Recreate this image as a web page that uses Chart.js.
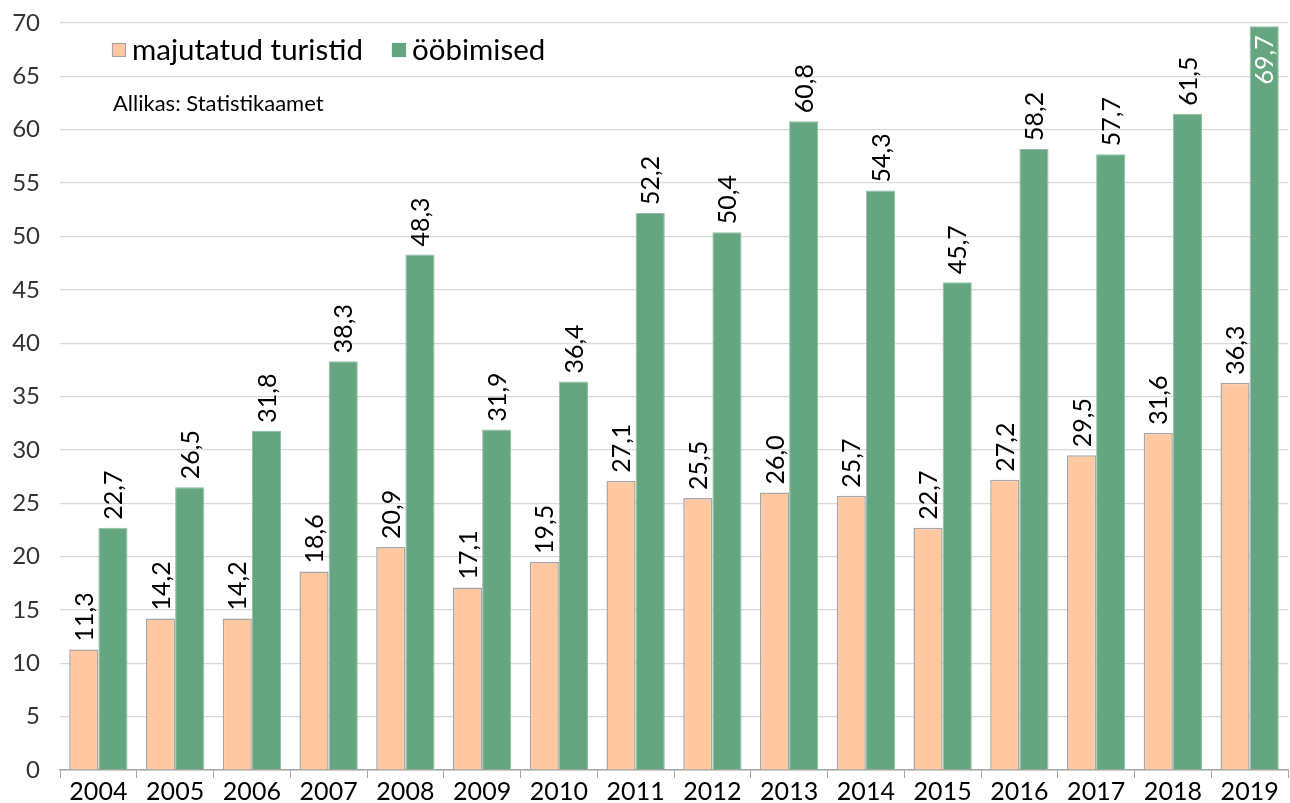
<!DOCTYPE html>
<html>
<head>
<meta charset="utf-8">
<script src="https://cdn.jsdelivr.net/npm/chart.js@4/dist/chart.umd.min.js"></script>
<style>
html,body{margin:0;padding:0;background:#fff;}
#wrap{width:1290px;height:803px;position:relative;}
</style>
</head>
<body>
<div id="wrap"><canvas id="c" width="1290" height="803"></canvas></div>
<script>
const years = ['2004','2005','2006','2007','2008','2009','2010','2011','2012','2013','2014','2015','2016','2017','2018','2019'];
const tourists = [11.3,14.2,14.2,18.6,20.9,17.1,19.5,27.1,25.5,26.0,25.7,22.7,27.2,29.5,31.6,36.3];
const nights = [22.7,26.5,31.8,38.3,48.3,31.9,36.4,52.2,50.4,60.8,54.3,45.7,58.2,57.7,61.5,69.7];
const seriesNames = ['majutatud turistid','ööbimised'];
const sourceNote = 'Allikas: Statistikaamet';

const FONT = 'Lato, "Open Sans", sans-serif';
const fmt = v => v.toFixed(1).replace('.', ',');

const labelPlugin = {
  id: 'barLabels',
  afterDatasetsDraw(chart) {
    const ctx = chart.ctx;
    ctx.save();
    ctx.font = '25px ' + FONT;
    chart.data.datasets.forEach((ds, di) => {
      const meta = chart.getDatasetMeta(di);
      meta.data.forEach((bar, i) => {
        const txt = fmt(ds.data[i]);
        const w = ctx.measureText(txt).width;
        ctx.save();
        ctx.translate(bar.x, bar.y);
        ctx.rotate(-Math.PI / 2);
        ctx.textBaseline = 'middle';
        if (bar.y - 8 - w < 0) {
          ctx.fillStyle = '#ffffff';
          ctx.textAlign = 'right';
          ctx.fillText(txt, -9, 1);
        } else {
          ctx.fillStyle = '#000000';
          ctx.textAlign = 'left';
          ctx.fillText(txt, 8, 1);
        }
        ctx.restore();
      });
    });
    ctx.restore();
  }
};

const legendPlugin = {
  id: 'customLegend',
  afterDraw(chart) {
    const ctx = chart.ctx;
    ctx.save();
    const items = [
      {x: 112, fill: '#ffc8a0', stroke: '#a6a6a6', text: seriesNames[0]},
      {x: 392, fill: '#65a680', stroke: '#65a680', text: seriesNames[1]}
    ];
    items.forEach(it => {
      ctx.fillStyle = it.fill;
      ctx.fillRect(it.x, 43, 14, 14);
      ctx.strokeStyle = it.stroke;
      ctx.lineWidth = 1.2;
      ctx.strokeRect(it.x + 0.5, 43.5, 13, 13);
      ctx.fillStyle = '#000';
      ctx.font = '29.5px ' + FONT;
      ctx.textBaseline = 'alphabetic';
      ctx.textAlign = 'left';
      ctx.fillText(it.text, it.x + 20, 60);
    });
    ctx.font = '22px "Liberation Sans Narrow", ' + FONT;
    ctx.fillText(sourceNote, 113, 111);
    ctx.restore();
  }
};

new Chart(document.getElementById('c'), {
  type: 'bar',
  data: {
    labels: years,
    datasets: [
      {label: seriesNames[0], data: tourists, backgroundColor: '#ffc8a0', borderColor: '#a6a6a6', borderWidth: 1.5, borderSkipped: 'bottom'},
      {label: seriesNames[1], data: nights, backgroundColor: '#65a680', borderColor: '#8fc0a3', borderWidth: 1, borderSkipped: 'bottom'}
    ]
  },
  options: {
    responsive: false,
    animation: false,
    layout: {padding: {top: 23, right: 2, left: 0, bottom: 0}},
    datasets: {bar: {categoryPercentage: 0.76, barPercentage: 1.0}},
    plugins: {legend: {display: false}, tooltip: {enabled: false}, title: {display: false}},
    scales: {
      x: {
        afterFit(s) { s.height = 33; },
        grid: {display: true, drawOnChartArea: false, offset: true, tickLength: 8, color: '#a6a6a6'},
        border: {display: true, color: '#a6a6a6', width: 1.5},
        ticks: {color: '#000', font: {family: FONT, size: 25}, padding: -1, maxRotation: 0}
      },
      y: {
        min: 0, max: 70,
        afterFit(s) { s.width = 60; s.paddingTop = 0; s.paddingBottom = 0; },
        ticks: {stepSize: 5, color: '#333', font: {family: FONT, size: 24, lineHeight: 0.2}, padding: 20},
        grid: {color: '#d9d9d9', lineWidth: 1.2, drawTicks: false},
        border: {display: false}
      }
    }
  },
  plugins: [labelPlugin, legendPlugin]
});
</script>
</body>
</html>
